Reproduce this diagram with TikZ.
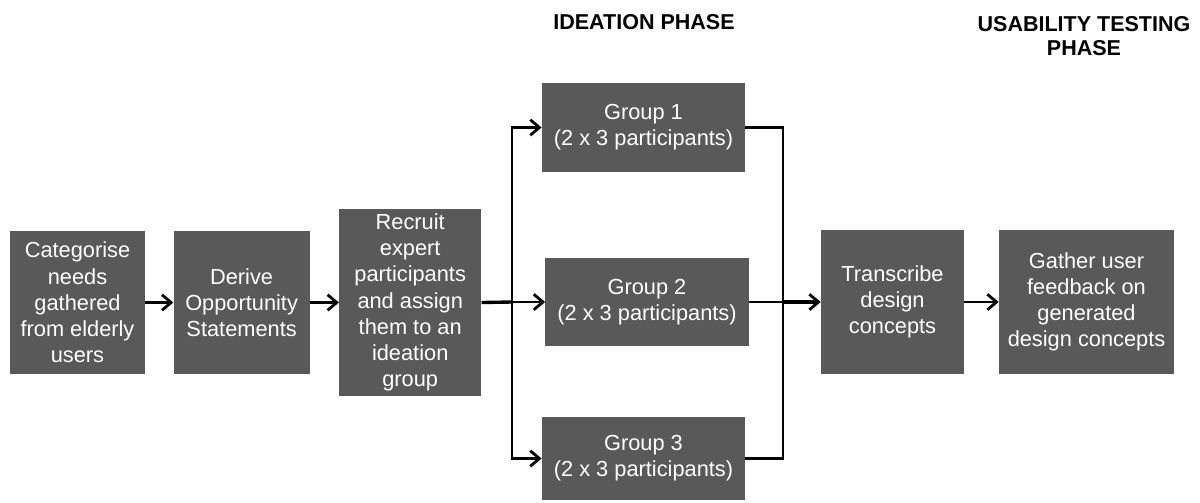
\documentclass[tikz,border=0pt]{standalone}
\usepackage{fontspec}
\setmainfont{Liberation Sans}
\usetikzlibrary{arrows.meta,positioning,calc}

\definecolor{boxgrey}{HTML}{595959}

\begin{document}
\begin{tikzpicture}[
    x=0.025cm, y=-0.025cm,
    font=\fontsize{15.5}{18.6}\selectfont,
    block/.style={rectangle, fill=boxgrey, text=white, align=center, inner sep=0pt},
    group/.style={block, minimum width=5.08cm, minimum height=2.2cm},
    title/.style={font=\fontsize{15.3}{17.5}\selectfont\bfseries, align=center},
    arrow/.style={-{Straight Barb[length=6.5pt,width=11pt,line width=2pt]}, line width=2pt}
]
\useasboundingbox (0,0) rectangle (1200,502);

% Phase titles
\node[title] (ideation) at (644,22) {IDEATION PHASE};
\node[title] (usability) at (1084,36) {USABILITY TESTING\\PHASE};

% Preparation
\node[block, minimum width=3.375cm, minimum height=3.575cm] (categorise) at (77.5,302.5) {Categorise\\needs\\gathered\\from elderly\\users};
\node[block, minimum width=3.4cm, minimum height=3.575cm, right=0.7cm of categorise] (derive) {Derive\\Opportunity\\Statements};
\node[block, minimum width=3.55cm, minimum height=4.65cm, right=0.725cm of derive] (recruit) {Recruit\\expert\\participants\\and assign\\them to an\\ideation\\group};

% Ideation groups
\node[group] (group1) at (643.5,127.5) {Group 1\\(2 x 3 participants)};
\node[group] (group2) at (647,302) {Group 2\\(2 x 3 participants)};
\node[group, minimum height=2.075cm] (group3) at (643.5,458.5) {Group 3\\(2 x 3 participants)};

% Usability testing
\node[block, minimum width=3.575cm, minimum height=3.575cm] (transcribe) at (892.5,302) {Transcribe\\design\\concepts};
\node[block, minimum width=4.375cm, minimum height=3.575cm] (gather) at (1086.5,302) {Gather user\\feedback on\\generated\\design concepts};

\coordinate (split) at (512,302);
\coordinate (merge) at (783,302);

% Arrows
\draw[arrow] (categorise) -- (derive);
\draw[arrow] (derive) -- (recruit);
\draw[line width=2.4pt] (recruit.east) -- (split);
\draw[arrow] (split) |- (group1.west);
\draw[arrow] (split) -- (group2.west);
\draw[arrow] (split) |- (group3.west);
\draw[line width=2pt] (group1.east) -| (merge);
\draw[line width=2pt] (group3.east) -| (merge);
\draw[line width=2pt] (group2.east) -- (merge);
\draw[arrow, line width=2.4pt] (merge) -- (transcribe.west);
\draw[arrow] (transcribe) -- (gather);

\end{tikzpicture}
\end{document}
